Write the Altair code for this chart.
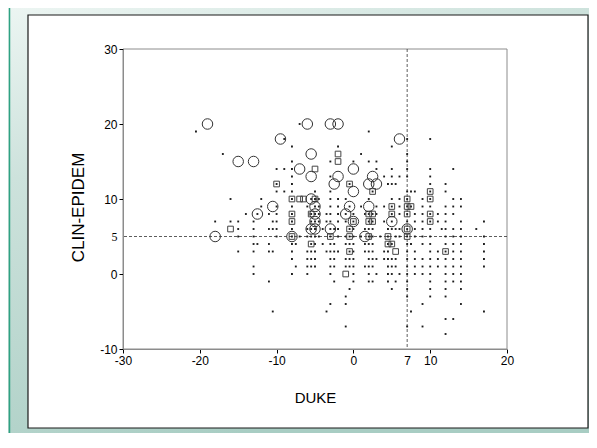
import altair as alt
import pandas as pd

# ---------------- data ----------------
x_ticks = [-30, -20, -10, 0, 7, 10, 20]
y_ticks = [-10, 0, 5, 10, 20, 30]
ref_x = 7
ref_y = 5

# single observations (small dots), one list per CLIN-EPIDEM row
dots_20 = [-7]
dots_19 = [-20.5, 2]
dots_18 = [-9, 7, 10]
dots_17 = [-8, -2, 5]
dots_16 = [-17, 1, 7]
dots_15 = [-8, -3, 0, 2, 3, 7]
dots_14 = [-10, -9, -8, 3, 5, 7, 10, 13]
dots_13 = [-8, -3, 4, 5, 6, 7, 10]
dots_12 = [-10, -8, -0.5, 4.5, 5, 5.5, 10, 12]
dots_11 = [-10, -9, -8, -5, -3, 2.5, 7, 7.5, 8, 10, 12]
dots_10 = [-16, -12, -8, -5.5, -5, -4.5, -3, -2, -1, 2, 5, 6, 7, 9, 10, 13, 14]
dots_9 = [-12, -10, -8, -6, -5, -4.5, -3, -2, -0.5, 1, 3, 4, 5, 6, 7, 7.5, 9, 10, 12, 13, 14]
dots_8 = [-14, -12.5, -11, -10, -8, -5.5, -5, -4.5, -3.5, -3, -2, -1, 0, 1.5, 2, 2.5, 3,
          5, 6, 7, 8, 9, 10, 11, 12, 13]
dots_7 = [-18, -16, -15, -13, -10.5, -10, -8, -5.5, -5, -4.5, -3.5, -3, -2, -1, 0, 2, 2.5,
          4, 5, 7, 8, 9, 10, 11, 12, 14, 17]
dots_6 = [-15, -13, -11, -10.5, -10, -8, -6, -5.5, -5, -4, -3, -2.5, -2, -0.5, 0, 1.5, 2,
          2.5, 4.5, 5, 5.5, 6, 7, 8, 9, 10, 11.5, 12, 13, 14, 16]
dots_5 = [-15, -13, -10, -8, -7, -6, -5.5, -5, -4.5, -3, -2, -1, -0.5, 0, 1, 2, 2.5, 3.5,
          4.5, 5.5, 6, 7, 8, 9, 10, 12, 13, 14, 17]
dots_4 = [-13, -12.5, -11, -8, -7.5, -5.5, -5, -4, -3, -2.5, -1, -0.5, 0, 1.5, 2, 2.5,
          4.5, 5, 7, 7.5, 9, 10, 12, 13, 14, 17]
dots_3 = [-15, -13, -11, -10.5, -8, -6, -5.5, -5, -3.5, -3, -2.5, -2, -0.5, 0, 1.5, 2, 2.5,
          4, 4.5, 7, 8, 10, 11, 12, 13, 14, 17]
dots_2 = [-8, -6, -5.5, -5, -3, -2.5, -1, -0.5, 0, 2, 2.5, 3, 4, 4.5, 5, 5.5, 7, 8, 9, 10,
          11, 12, 13, 14, 17]
dots_1 = [-13, -7.5, -6, -5.5, -5, -3, -2.5, -1, -0.5, 0, 1.5, 2, 2.5, 4.5, 5, 5.5, 7, 8,
          9, 10, 11, 12, 13, 14, 17]
dots_0 = [-13, -8, -6, -3, 0, 2, 3, 4.5, 5, 6, 7, 8, 9, 10, 12, 13, 14]
dots_m1 = [-11, -2.5, 0, 2, 2.5, 4.5, 5.5, 7, 10, 12, 13, 14]
dots_m2 = [-0.5, 5, 7, 10, 12, 14]
dots_m3 = [-1, 7, 10, 12]
dots_m4 = [-3, -1, 9, 14]
dots_m5 = [-10.5, -3.5, 7.5, 17]
dots_m6 = [12, 13]
dots_m7 = [-1, 7, 9]
dots_m8 = [12]

dot_rows = [
    (20, dots_20), (19, dots_19), (18, dots_18), (17, dots_17), (16, dots_16),
    (15, dots_15), (14, dots_14), (13, dots_13), (12, dots_12), (11, dots_11),
    (10, dots_10), (9, dots_9), (8, dots_8), (7, dots_7), (6, dots_6), (5, dots_5),
    (4, dots_4), (3, dots_3), (2, dots_2), (1, dots_1), (0, dots_0), (-1, dots_m1),
    (-2, dots_m2), (-3, dots_m3), (-4, dots_m4), (-5, dots_m5), (-6, dots_m6),
    (-7, dots_m7), (-8, dots_m8),
]

# small squares
square_x = [-10, -5, -2, -2, -0.5, 2.5, -8, -7, -6.5, -5, 7, 10, 10, 5, 7, 7.5,
            -8, -5.5, 2, 2.5, 5, 7, 10, -8, 0, 2, 2.5, 10, -16, -0.5, 7,
            -8, -3, -0.5, 2, 4.5, 7, -5.5, 4.5, 5, -0.5, 5.5, 12, -1]
square_y = [12, 14, 16, 15, 12, 11, 10, 10, 10, 10, 10, 10, 11, 9, 9, 9,
            8, 8, 8, 8, 8, 8, 8, 7, 7, 7, 7, 7, 6, 6, 6,
            5, 5, 5, 5, 5, 5, 4, 4, 4, 3, 3, 3, 0]

# large circles
circle_x = [-19, -6, -3, -2, -9.5, 6, -5.5, -15, -13, -7, 0, -5.5, -2, 2.5, -2.5, 2, 3,
            0, -5.5, -10.5, -5, -0.5, 2, -12.5, -5, -1, -5, 0, 5, -5.5, -5, -3, 7,
            -18, -8, 1.5]
circle_y = [20, 20, 20, 20, 18, 18, 16, 15, 15, 14, 14, 13, 13, 13, 12, 12, 12,
            11, 10, 9, 9, 9, 9, 8, 8, 8, 7, 7, 7, 6, 6, 6, 6,
            5, 5, 5]

# ---------------- tables ----------------
dot_df = pd.DataFrame(
    [{"DUKE": x, "CLIN": y} for y, xs in dot_rows for x in xs]
)
square_df = pd.DataFrame({"DUKE": square_x, "CLIN": square_y})
circle_df = pd.DataFrame({"DUKE": circle_x, "CLIN": circle_y})
one = pd.DataFrame({"a": [0]})

W, H = 384, 300
PAD_L, PAD_T, PAD_R, PAD_B = 115, 41, 82, 84

xscale = alt.Scale(domain=[-30, 20], nice=False, zero=False)
yscale = alt.Scale(domain=[-10, 30], nice=False, zero=False)

font = "Liberation Sans"

x_axis = alt.Axis(
    values=x_ticks, title="DUKE", grid=False, zindex=1,
    domainColor="#8c8c8c", domainWidth=1,
    tickColor="#000000", tickSize=4,
    tickOpacity={"condition": {"test": "datum.value == 7", "value": 0}, "value": 1},
    labelExpr="'' + datum.value",
    labelFont=font, labelFontSize=12, labelColor="#000000", labelPadding=2,
    labelFlush=False,
    titleFont=font, titleFontSize=15, titleFontWeight="normal", titleColor="#000000",
    titleX=W / 2, titleY=48, titleBaseline="middle", titleAlign="center",
)
y_axis = alt.Axis(
    values=y_ticks, title="CLIN-EPIDEM", grid=False, zindex=1,
    domainColor="#8c8c8c", domainWidth=1,
    tickColor="#000000", tickSize=4,
    tickOpacity={"condition": {"test": "datum.value == 5", "value": 0}, "value": 1},
    labelExpr="'' + datum.value",
    labelFont={"condition": {"test": "datum.value == 5", "value": "Liberation Serif"},
               "value": font},
    labelFontSize=12, labelColor="#000000", labelPadding=2, labelFlush=False,
    titleFont=font, titleFontSize=17, titleFontWeight="normal", titleColor="#000000",
    titleX=-45, titleY=158, titleAngle=270, titleBaseline="middle", titleAlign="center",
)

gradient = alt.LinearGradient(
    gradient="linear",
    x1=0, y1=0, x2=0.4, y2=1,
    stops=[
        alt.GradientStop(offset=0, color="#ecf5f2"),
        alt.GradientStop(offset=0.35, color="#cde2dc"),
        alt.GradientStop(offset=0.86, color="#b3d3ca"),
        alt.GradientStop(offset=1, color="#a8cdc3"),
    ],
)

background = alt.Chart(one).mark_rect(fill=gradient, clip=False).encode(
    x=alt.value(-PAD_L), x2=alt.value(W + PAD_R),
    y=alt.value(-PAD_T), y2=alt.value(H + PAD_B),
)
green_edge = alt.Chart(one).mark_rule(color="#2fa283", strokeWidth=1.5, clip=False).encode(
    x=alt.value(-PAD_L + 1.5), y=alt.value(-PAD_T), y2=alt.value(H + PAD_B),
)
panel = alt.Chart(one).mark_rect(fill="#ffffff", stroke="#1a1a1a", strokeWidth=1.2,
                                 clip=False).encode(
    x=alt.value(-95), x2=alt.value(465),
    y=alt.value(-34), y2=alt.value(379),
)
frame = alt.Chart(one).mark_rect(fillOpacity=0, stroke="#8c8c8c", strokeWidth=1).encode(
    x=alt.value(0), x2=alt.value(W), y=alt.value(0), y2=alt.value(H),
)

hline = alt.Chart(one).mark_rule(color="#333333", strokeWidth=0.8, strokeDash=[3, 2]).encode(
    y=alt.datum(ref_y, scale=yscale),
)
vline = alt.Chart(one).mark_rule(color="#333333", strokeWidth=0.8, strokeDash=[3, 2]).encode(
    x=alt.datum(ref_x, scale=xscale),
)

dots = alt.Chart(dot_df).mark_square(size=3.5, color="#1a1a1a", filled=True, opacity=1).encode(
    x=alt.X("DUKE:Q", scale=xscale, axis=x_axis),
    y=alt.Y("CLIN:Q", scale=yscale, axis=y_axis),
)
squares = alt.Chart(square_df).mark_square(size=32, filled=False, color="#444444",
                                           strokeWidth=1, opacity=1).encode(
    x=alt.X("DUKE:Q", scale=xscale),
    y=alt.Y("CLIN:Q", scale=yscale),
)
circles = alt.Chart(circle_df).mark_point(shape="circle", size=110, filled=False,
                                          color="#333333", strokeWidth=1, opacity=1).encode(
    x=alt.X("DUKE:Q", scale=xscale),
    y=alt.Y("CLIN:Q", scale=yscale),
)

chart = alt.layer(
    background, green_edge, panel, frame, hline, vline, dots, squares, circles
).properties(
    width=W, height=H,
    autosize=alt.AutoSizeParams(type="none"),
    padding={"left": PAD_L, "top": PAD_T, "right": PAD_R, "bottom": PAD_B},
).configure_view(stroke=None)

chart.save("out.html", embed_options={"renderer": "svg", "actions": False})
